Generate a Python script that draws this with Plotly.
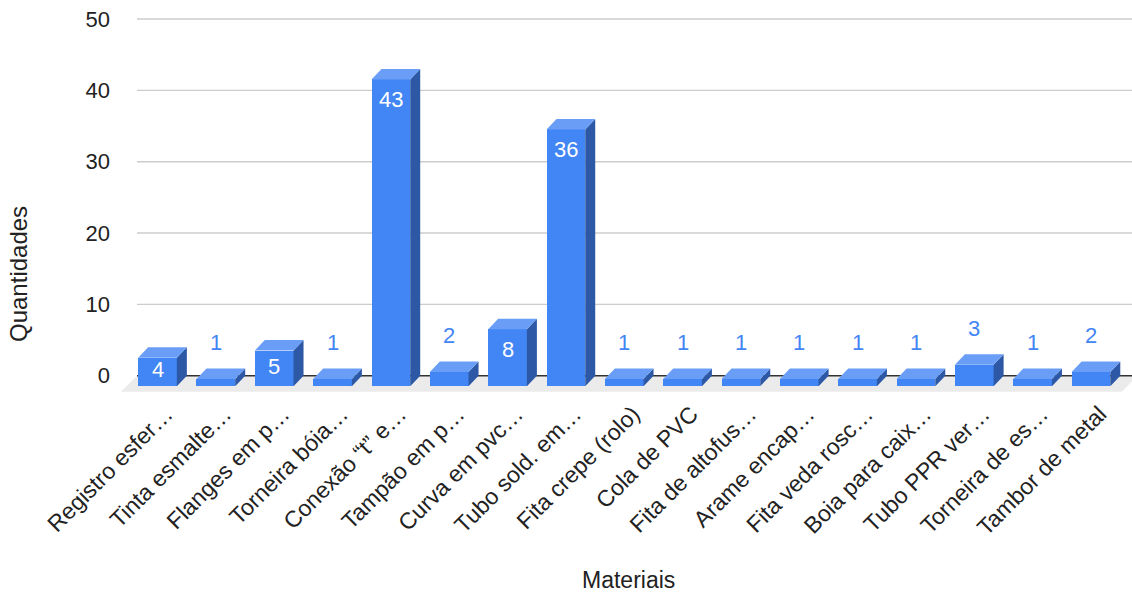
import plotly.graph_objects as go

# ---- data -------------------------------------------------------------
materiais = [
    "Registro esfer…", "Tinta esmalte…", "Flanges em p…", "Torneira bóia…",
    "Conexão “t” e…", "Tampão em p…", "Curva em pvc…", "Tubo sold. em…",
    "Fita crepe (rolo)", "Cola de PVC", "Fita de altofus…", "Arame encap…",
    "Fita veda rosc…", "Boia para caix…", "Tubo PPR ver…", "Torneira de es…",
    "Tambor de metal",
]
quantidades = [4, 1, 5, 1, 43, 2, 8, 36, 1, 1, 1, 1, 1, 1, 3, 1, 2]
y_ticks = [0, 10, 20, 30, 40, 50]

# ---- geometry of the page / pseudo-3D projection -----------------------
W, H = 1132, 593
L_PX, R_PX, T_PX, B_PX = 121, 1132, 14, 398   # plot area in pixels
BASE_PX = 375.7      # pixel row of value 0 on the back plane
X0_PX = 157.5        # pixel column of the first category
K = 7.134            # pixels per unit of value
S = 58.34            # pixels per category

DX = 10 / S          # depth offset (horizontal), in category units
DY = 10.5 / K        # depth offset (vertical), in value units
BAR_W = 38.7 / S     # bar width, in category units

x_range = [(L_PX - X0_PX) / S, (R_PX - X0_PX) / S]
y_range = [-(B_PX - BASE_PX) / K, (BASE_PX - T_PX) / K]
back_left = (137 - X0_PX) / S

FRONT = "#4285f4"
TOP = "#6a9ef6"
SIDE = "#2c58a5"
FONT = "Liberation Sans, Arial, sans-serif"
TXT = "#222222"

idx = list(range(len(quantidades)))

fig = go.Figure()

# front faces of the bars (pushed forward/down by the depth offset)
fig.add_trace(go.Bar(
    x=idx, y=quantidades, base=-DY, width=BAR_W,
    marker=dict(color=FRONT, line=dict(width=0)),
    hoverinfo="skip", showlegend=False,
))

# side and top faces of each bar
side_x, side_y, top_x, top_y = [], [], [], []
for i, v in zip(idx, quantidades):
    x0, x1 = i - BAR_W / 2, i + BAR_W / 2
    side_x += [x1, x1 + DX, x1 + DX, x1, x1, None]
    side_y += [-DY, 0, v, v - DY, -DY, None]
    top_x += [x0, x1, x1 + DX, x0 + DX, x0, None]
    top_y += [v - DY, v - DY, v, v, v - DY, None]

fig.add_trace(go.Scatter(x=side_x, y=side_y, mode="lines", fill="toself",
                         fillcolor=SIDE, line=dict(width=0, color=SIDE),
                         hoverinfo="skip", showlegend=False))
fig.add_trace(go.Scatter(x=top_x, y=top_y, mode="lines", fill="toself",
                         fillcolor=TOP, line=dict(width=0, color=TOP),
                         hoverinfo="skip", showlegend=False))

# floor, gridlines and baseline behind the bars
floor_dx, floor_dy = 16 / S, 16 / K
floor_path = (f"M {back_left} 0 L {x_range[1] + 0.1} 0 "
              f"L {x_range[1] + 0.1 - floor_dx} {-floor_dy} "
              f"L {back_left - floor_dx} {-floor_dy} Z")
shapes = [dict(type="path", path=floor_path, xref="x", yref="y",
               fillcolor="#ebebeb", line=dict(width=0), layer="below")]
for t in y_ticks[1:]:
    shapes.append(dict(type="line", xref="x", yref="y",
                       x0=back_left, x1=x_range[1], y0=t, y1=t,
                       line=dict(color="#cccccc", width=1.4), layer="below"))
shapes.append(dict(type="line", xref="x", yref="y",
                   x0=back_left, x1=x_range[1], y0=0, y1=0,
                   line=dict(color="#333333", width=1.4), layer="below"))

# value labels: inside the front face when it fits, above the bar otherwise
annotations = []
for i, v in zip(idx, quantidades):
    h_px = v * K
    if h_px >= 25:
        annotations.append(dict(
            x=i, y=v - DY, xref="x", yref="y", text=str(v), showarrow=False,
            yanchor="middle", yshift=-min(20, h_px / 2 - 2),
            font=dict(family=FONT, size=22, color="#ffffff")))
    else:
        annotations.append(dict(
            x=i, y=v, xref="x", yref="y", text=str(v), showarrow=False,
            yanchor="middle", yshift=26,
            font=dict(family=FONT, size=22, color=FRONT)))

# axis titles
annotations.append(dict(
    text="Quantidades", textangle=-90, showarrow=False,
    xref="paper", yref="paper",
    x=(18 - L_PX) / (R_PX - L_PX), y=(B_PX - 274) / (B_PX - T_PX),
    xanchor="center", yanchor="middle",
    font=dict(family=FONT, size=24, color=TXT)))
annotations.append(dict(
    text="Materiais", showarrow=False, xref="paper", yref="paper",
    x=(628 - L_PX) / (R_PX - L_PX), y=(B_PX - 580) / (B_PX - T_PX),
    xanchor="center", yanchor="middle",
    font=dict(family=FONT, size=23, color=TXT)))

fig.update_layout(
    width=W, height=H,
    margin=dict(l=L_PX, r=W - R_PX, t=T_PX, b=H - B_PX, pad=0),
    paper_bgcolor="#ffffff", plot_bgcolor="#ffffff",
    bargap=0, showlegend=False,
    shapes=shapes, annotations=annotations,
    xaxis=dict(range=x_range, tickmode="array",
               tickvals=[i + 0.15 for i in idx], ticktext=materiais,
               tickangle=-45, ticks="", showgrid=False, zeroline=False,
               showline=False, automargin=False, ticklabelstandoff=-3,
               tickfont=dict(family=FONT, size=23, color=TXT)),
    yaxis=dict(range=y_range, tickmode="array", tickvals=y_ticks,
               ticks="", showgrid=False, zeroline=False, showline=False,
               automargin=False, ticklabelstandoff=10,
               tickfont=dict(family=FONT, size=22, color=TXT)),
)

fig.write_html("out.html")
